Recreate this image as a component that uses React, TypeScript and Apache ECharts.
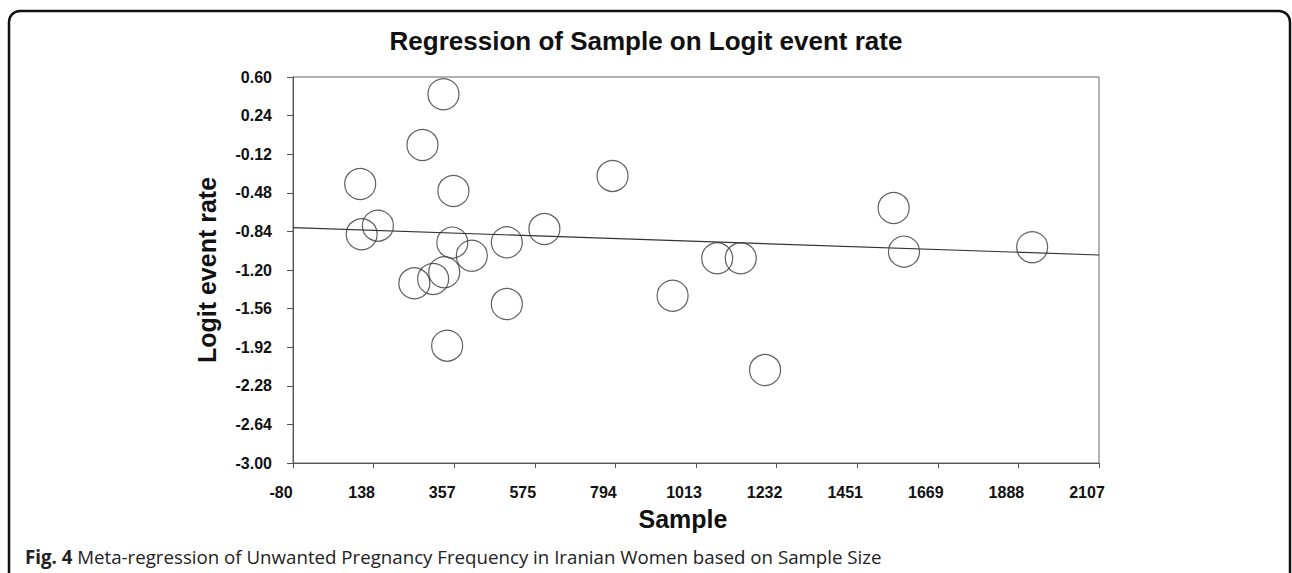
import React, { useEffect, useRef } from "react";
import * as echarts from "echarts";

const chartTitle = "Regression of Sample on Logit event rate";
const xAxisTitle = "Sample";
const yAxisTitle = "Logit event rate";
const captionBold = "Fig. 4";
const captionText =
  "Meta-regression of Unwanted Pregnancy Frequency in Iranian Women based on Sample Size";

// study points (sample size, logit event rate)
const sampleSize = [
  328, 271, 102, 355, 150, 106, 352, 405, 500, 602, 330, 300, 249, 500, 338,
  787, 1071, 1135, 950, 1201, 1550, 1578, 1926,
];
const logitEventRate = [
  0.439, -0.034, -0.398, -0.463, -0.787, -0.867, -0.945, -1.067, -0.942, -0.818,
  -1.221, -1.284, -1.324, -1.517, -1.906, -0.323, -1.091, -1.091, -1.44, -2.133,
  -0.622, -1.029, -0.988,
];

// fitted regression line end points
const regressionX = [-80.4, 2107.4];
const regressionY = [-0.805, -1.06];

// axis ranges
const xMin = -80.4;
const xMax = 2107.4;
const xStep = 218.78;
const yMin = -3;
const yMax = 0.6;
const yStep = 0.36;

const FONT = "'Liberation Sans', Arial, Helvetica, sans-serif";
const CAPTION_FONT = "'Open Sans', 'Noto Sans', sans-serif";

export default function App() {
  const ref = useRef<HTMLDivElement>(null);

  useEffect(() => {
    if (!ref.current) return;
    const chart = echarts.init(ref.current, undefined, { renderer: "svg" });
    const points = sampleSize.map((s, i) => [s, logitEventRate[i]]);
    const line = regressionX.map((x, i) => [x, regressionY[i]]);

    chart.setOption({
      animation: false,
      backgroundColor: "#ffffff",
      title: {
        text: chartTitle,
        left: "center",
        top: 23,
        textStyle: {
          fontFamily: FONT,
          fontWeight: "bold",
          fontSize: 26,
          color: "#111",
        },
      },
      grid: {
        left: 293,
        right: 193,
        top: 77,
        bottom: 110,
        show: true,
        borderColor: "#666",
        borderWidth: 1,
        backgroundColor: "transparent",
      },
      xAxis: {
        type: "value",
        min: xMin,
        max: xMax,
        interval: xStep,
        name: xAxisTitle,
        nameLocation: "middle",
        nameGap: 43,
        nameTextStyle: {
          fontFamily: FONT,
          fontWeight: "bold",
          fontSize: 25,
          color: "#111",
          padding: [0, 26, 0, 0],
        },
        axisLine: {
          show: true,
          onZero: false,
          lineStyle: { color: "#555", width: 1 },
        },
        axisTick: { show: true, length: 5, lineStyle: { color: "#555" } },
        splitLine: { show: false },
        axisLabel: {
          margin: 21,
          fontFamily: FONT,
          fontWeight: "bold",
          fontSize: 16,
          color: "#111",
          padding: [0, 24, 0, 0],
          showMinLabel: true,
          showMaxLabel: true,
          formatter: (v: number) => String(Math.trunc(v)),
        },
      },
      yAxis: {
        type: "value",
        min: yMin,
        max: yMax,
        interval: yStep,
        name: yAxisTitle,
        nameLocation: "middle",
        nameGap: 74,
        nameTextStyle: {
          fontFamily: FONT,
          fontWeight: "bold",
          fontSize: 25,
          color: "#111",
        },
        axisLine: {
          show: true,
          onZero: false,
          lineStyle: { color: "#555", width: 1 },
        },
        axisTick: { show: true, length: 6, lineStyle: { color: "#555" } },
        splitLine: { show: false },
        axisLabel: {
          margin: 21,
          fontFamily: FONT,
          fontWeight: "bold",
          fontSize: 16,
          color: "#111",
          showMinLabel: true,
          showMaxLabel: true,
          formatter: (v: number) => v.toFixed(2),
        },
      },
      series: [
        {
          type: "line",
          data: line,
          showSymbol: false,
          symbol: "none",
          lineStyle: { color: "#333", width: 1.2 },
          silent: true,
          z: 2,
        },
        {
          type: "scatter",
          data: points,
          symbol: "circle",
          symbolSize: 31,
          itemStyle: {
            color: "rgba(0,0,0,0)",
            borderColor: "#3a3a3a",
            borderWidth: 1.2,
          },
          silent: true,
          z: 3,
        },
      ],
      graphic: [
        {
          type: "rect",
          silent: true,
          shape: { x: 9, y: 11, width: 1281, height: 640, r: 11 },
          style: { fill: "none", stroke: "#111", lineWidth: 2.5 },
        },
        {
          type: "text",
          silent: true,
          x: 25,
          y: 556,
          style: {
            text: `{b|${captionBold}} {n|${captionText}}`,
            verticalAlign: "middle",
            align: "left",
            fontFamily: CAPTION_FONT,
            fontSize: 18.7,
            fill: "#222",
            rich: {
              b: {
                fontFamily: CAPTION_FONT,
                fontWeight: "bold",
                fontSize: 18.7,
                color: "#222",
              },
              n: {
                fontFamily: CAPTION_FONT,
                fontSize: 18.7,
                color: "#222",
              },
            },
          },
        },
      ],
    });

    return () => chart.dispose();
  }, []);

  return (
    <div
      ref={ref}
      style={{
        position: "fixed",
        left: 0,
        top: 0,
        width: 1292,
        height: 573,
        background: "#fff",
      }}
    />
  );
}
